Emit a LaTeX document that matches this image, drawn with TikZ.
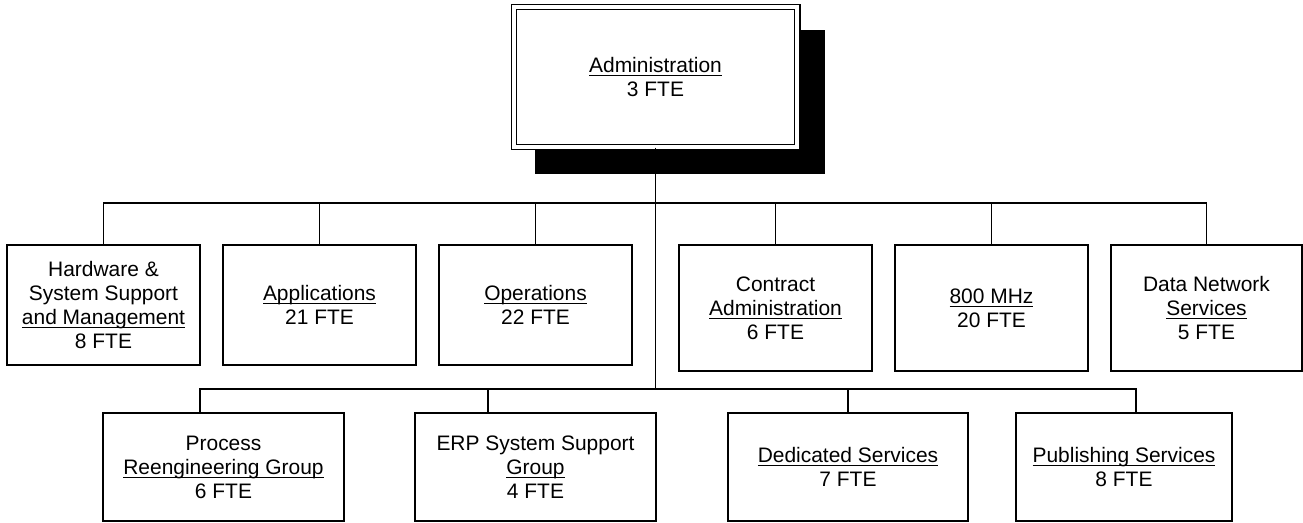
\documentclass[tikz,border=0pt]{standalone}
\usepackage{fontspec}
\setmainfont{Liberation Sans}
\usepackage{tikz}
\usetikzlibrary{shadows}
\newlength{\ulwd}
\newcommand{\undl}[1]{\settowidth{\ulwd}{#1}\rlap{\rule[-2.4pt]{\ulwd}{0.65pt}}#1}

\begin{document}
\begin{tikzpicture}[
    x=0.025cm, y=-0.025cm,
    unit/.style={draw, line width=1pt, fill=white, align=center, inner sep=0pt,
        font=\fontsize{14.9}{17.1}\selectfont},
    topunit/.style={unit, minimum width=4.825cm, minimum height=3cm},
    topunitb/.style={unit, minimum width=4.825cm, minimum height=3.15cm},
    lowunit/.style={unit, minimum height=2.7cm},
    head/.style={unit, double, line width=0.9pt, double distance=0.095cm,
        minimum width=7.09cm, minimum height=3.5cm,
        drop shadow={shadow xshift=0.61cm, shadow yshift=-0.61cm, shadow scale=1.022, fill=black, opacity=1}},
    link/.style={line width=1pt},
]
    \useasboundingbox (0,0) rectangle (1303,522);

    \node[head] (admin) at (655.5, 77) {\undl{Administration}\\3 FTE};

    \node[topunit] (hw) at (103.5, 305) {Hardware \&\\System Support\\\undl{and Management}\\8 FTE};
    \node[topunit] (apps) at (319.5, 305) {\undl{Applications}\\21 FTE};
    \node[topunit] (ops) at (535.5, 305) {\undl{Operations}\\22 FTE};
    \node[topunitb] (contract) at (775.5, 308) {Contract\\\undl{Administration}\\6 FTE};
    \node[topunitb] (mhz) at (991.5, 308) {\undl{800 MHz}\\20 FTE};
    \node[topunitb, minimum width=4.775cm] (dns) at (1206.5, 308) {Data Network\\\undl{Services}\\5 FTE};

    \node[lowunit, minimum width=6.025cm] (proc) at (223.5, 467) {Process\\\undl{Reengineering Group}\\6 FTE};
    \node[lowunit, minimum width=6.025cm] (erp) at (535.5, 467) {ERP System Support\\\undl{Group}\\4 FTE};
    \node[lowunit, minimum width=6cm] (ded) at (848, 467) {\undl{Dedicated Services}\\7 FTE};
    \node[lowunit, minimum width=5.4cm] (pub) at (1124, 467) {\undl{Publishing Services}\\8 FTE};

    \coordinate (bar1) at (655.5, 203);
    \coordinate (bar2) at (655.5, 389);

    \draw[link] (admin) -- (bar2);
    \draw[link] (hw) |- (bar1) -| (dns);
    \foreach \n in {apps,ops,contract,mhz}
        \draw[link] (\n) -- (\n |- bar1);
    \draw[link] ([xshift=-0.5875cm]proc.north) |- (bar2) -| ([xshift=0.3cm]pub.north);
    \draw[link] ([xshift=-1.1875cm]erp.north) |- (bar2);
    \draw[link] (ded) |- (bar2);
\end{tikzpicture}
\end{document}
